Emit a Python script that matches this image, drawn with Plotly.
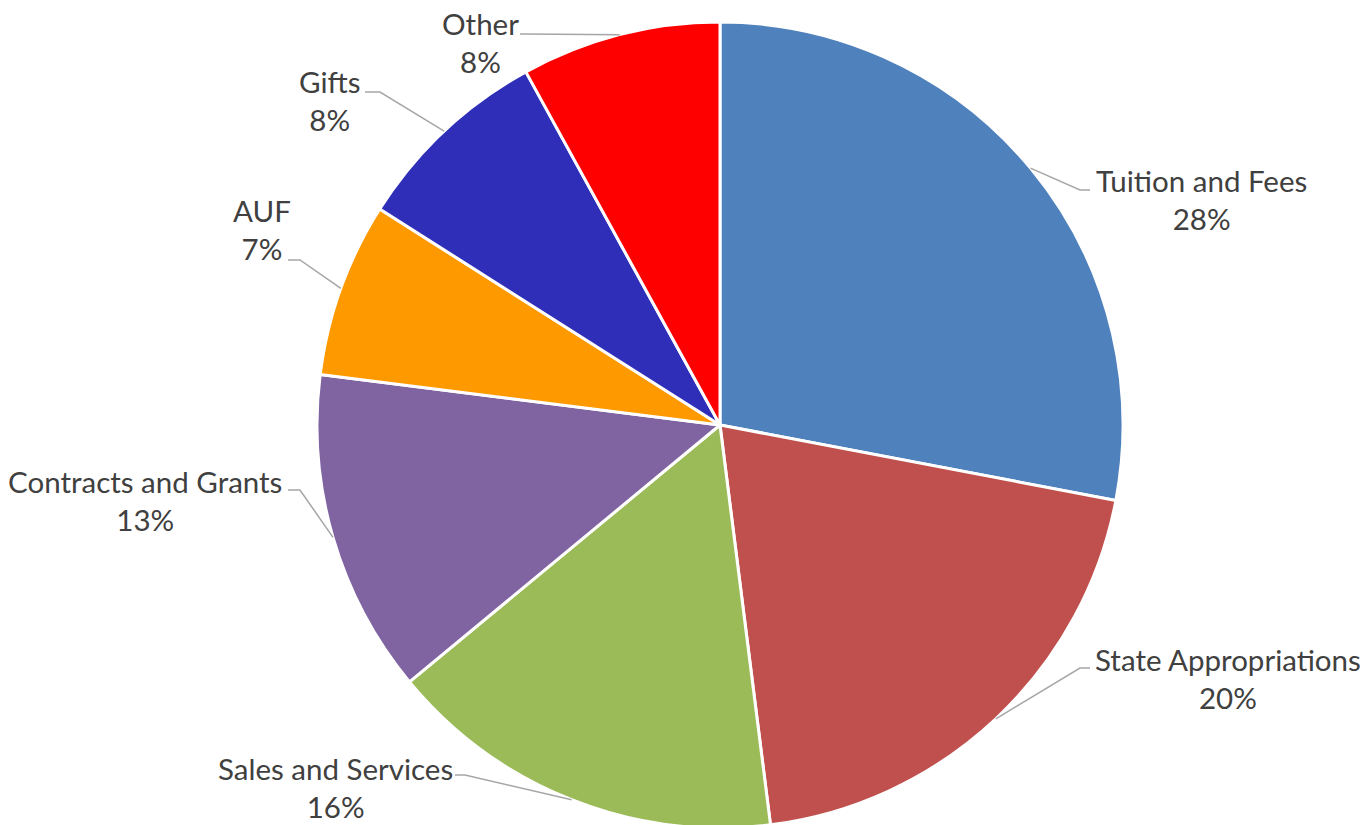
import math
import plotly.graph_objects as go

# ---- data ----
labels = ["Tuition and Fees", "State Appropriations", "Sales and Services",
          "Contracts and Grants", "AUF", "Gifts", "Other"]
values = [28, 20, 16, 13, 7, 8, 8]
colors = ["#4F81BD", "#C0504D", "#9BBB59", "#8064A2", "#FF9900", "#2E2EB8", "#FF0000"]

# ---- layout constants (pixels in the final picture) ----
W, H = 1370, 825
OFF = 8  # page body offset
CX, CY, R = 720, 425, 403
# text centre (x, y of block centre), elbow point, horizontal end of leader
label_pos = [
    (1201, 200, (1080, 190), (1090, 190)),
    (1228, 678, (1080, 668), (1090, 668)),
    (335, 787, (465, 775), (455, 775)),
    (145, 501, (300, 490), (288, 490)),
    (262, 230, (300, 260), (288, 260)),
    (329, 100, (380, 92), (365, 92)),
    (480, 42, (525, 34), (520, 34)),
]


def px(x):
    return (x - OFF) / W


def py(y):
    return 1 - (y - OFF) / H


fig = go.Figure(go.Pie(
    labels=labels, values=values, sort=False, direction="clockwise", rotation=0,
    marker=dict(colors=colors, line=dict(color="white", width=3)),
    textinfo="none", hoverinfo="label+percent", showlegend=False,
    domain=dict(x=[px(CX - R), px(CX + R)], y=[py(CY + R), py(CY - R)]),
))

total = sum(values)
cum = 0
annotations = []
shapes = []
for lab, v, (tx, ty, elbow, hend) in zip(labels, values, label_pos):
    mid = (cum + v / 2) / total * 2 * math.pi
    cum += v
    ex = CX + R * math.sin(mid)
    ey = CY - R * math.cos(mid)
    path = f"M {px(ex)},{py(ey)} L {px(elbow[0])},{py(elbow[1])} L {px(hend[0])},{py(hend[1])}"
    shapes.append(dict(type="path", path=path, xref="paper", yref="paper",
                       line=dict(color="#A6A6A6", width=1.5)))
    pct = f"{v / total * 100:.0f}%"
    annotations.append(dict(x=px(tx), y=py(ty), xref="paper", yref="paper",
                            text=f"{lab}<br>{pct}", showarrow=False, borderpad=0,
                            xanchor="center", yanchor="middle", align="center",
                            font=dict(family="Lato", size=29.5, color="#404040")))

fig.update_layout(
    width=W, height=H, margin=dict(l=0, r=0, t=0, b=0),
    paper_bgcolor="white", plot_bgcolor="white",
    annotations=annotations, shapes=shapes,
)

fig.write_html("out.html")
